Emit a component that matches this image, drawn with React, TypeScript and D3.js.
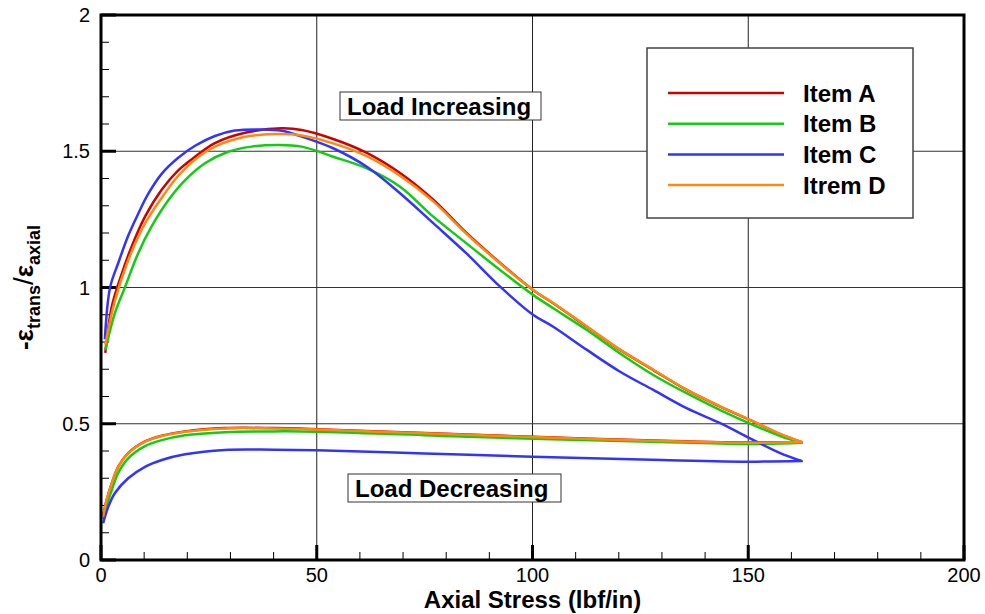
import React, { useEffect, useRef } from "react";
import * as d3 from "d3";

// legend / series
const itemNames = ["Item A", "Item B", "Item C", "Itrem D"];
const itemColors = ["#cc0000", "#11cc11", "#3333ff", "#ff8811"];

const xMajorTicks = [0, 50, 100, 150, 200];
const yMajorTicks = [0, 0.5, 1, 1.5, 2];
const xMinorTicks = [10, 20, 30, 40, 60, 70, 80, 90, 110, 120, 130, 140, 160, 170, 180, 190];
const yMinorTicks = [0.1, 0.2, 0.3, 0.4, 0.6, 0.7, 0.8, 0.9, 1.1, 1.2, 1.3, 1.4, 1.6, 1.7, 1.8, 1.9];

// load increasing branch, [axial stress, -e_trans/e_axial]
const itemAIncreasing = [
  [1.0, 0.76], [2.5, 0.93], [4.8, 1.05], [7.1, 1.15], [10.2, 1.26], [14.1, 1.36],
  [17.9, 1.43], [21.8, 1.48], [26.4, 1.53], [33.4, 1.568], [41.9, 1.584], [46.5, 1.578],
  [53.8, 1.545], [61.6, 1.494], [69.3, 1.42], [77, 1.322], [84.7, 1.2], [92.5, 1.09],
  [100.2, 0.99], [104.8, 0.942], [112.6, 0.856], [120.3, 0.771], [128, 0.697],
  [135.7, 0.624], [143.5, 0.563], [151.2, 0.508], [157.4, 0.462], [162.4, 0.432],
];
const itemADecreasing = [
  [162.4, 0.432], [151.2, 0.431], [130, 0.438], [100, 0.452], [75, 0.466], [50, 0.48],
  [40, 0.484], [28.7, 0.484], [19.5, 0.472], [14.1, 0.456], [10.2, 0.435], [6.3, 0.392],
  [4, 0.343], [2.5, 0.282], [1.3, 0.22], [0.5, 0.165],
];

const itemBIncreasing = [
  [1.0, 0.77], [3.2, 0.905], [5.6, 1.003], [8.6, 1.125], [11.7, 1.223], [15.6, 1.32],
  [19.5, 1.394], [24.1, 1.456], [29.5, 1.498], [34.9, 1.517], [41.1, 1.523], [46.5, 1.517],
  [53.8, 1.48], [61.6, 1.437], [69.3, 1.37], [77, 1.26], [84.7, 1.162], [92.5, 1.064],
  [100.2, 0.972], [104.8, 0.924], [112.6, 0.844], [120.3, 0.758], [128, 0.679],
  [135.7, 0.612], [143.5, 0.55], [151.2, 0.495], [157.4, 0.455], [162.4, 0.43],
];
const itemBDecreasing = [
  [162.4, 0.43], [151.2, 0.426], [130, 0.433], [100, 0.445], [75, 0.458], [50, 0.471],
  [40, 0.472], [28.7, 0.469], [19.5, 0.458], [14.1, 0.44], [10.2, 0.418], [6.3, 0.373],
  [4, 0.32], [2.5, 0.257], [1.3, 0.2], [0.5, 0.15],
];

const itemCIncreasing = [
  [0.9, 0.81], [2.1, 1.0], [4, 1.09], [6.3, 1.19], [8.6, 1.27], [11, 1.345], [14.1, 1.418],
  [17.9, 1.476], [21.8, 1.52], [26.4, 1.556], [31, 1.576], [37.2, 1.58], [41.9, 1.575],
  [46.1, 1.556], [53.8, 1.511], [61.6, 1.443], [69.3, 1.346], [77, 1.236], [84.7, 1.125],
  [92.5, 1.003], [100.2, 0.899], [104.8, 0.856], [112.6, 0.771], [120.3, 0.691],
  [128, 0.624], [135.7, 0.557], [143.5, 0.502], [151.2, 0.44], [157.4, 0.392], [162.4, 0.363],
];
const itemCDecreasing = [
  [162.4, 0.363], [151.2, 0.361], [130, 0.367], [100, 0.379], [75, 0.391], [50, 0.403],
  [40, 0.405], [28.7, 0.404], [19.5, 0.388], [14.1, 0.367], [10.2, 0.342], [6.3, 0.3],
  [3.2, 0.245], [1.7, 0.196], [0.5, 0.135],
];

const itemDIncreasing = [
  [1.0, 0.79], [3.2, 0.95], [6.3, 1.1], [10.2, 1.235], [14.1, 1.33], [17.9, 1.41],
  [21.8, 1.47], [26.4, 1.517], [33.4, 1.553], [40.3, 1.563], [46.5, 1.558], [53.8, 1.529],
  [61.6, 1.482], [69.3, 1.41], [77, 1.316], [84.7, 1.197], [92.5, 1.088], [100.2, 0.99],
  [104.8, 0.943], [112.6, 0.857], [120.3, 0.772], [128, 0.698], [135.7, 0.625],
  [143.5, 0.564], [151.2, 0.509], [157.4, 0.463], [162.4, 0.433],
];
const itemDDecreasing = [
  [162.4, 0.433], [151.2, 0.43], [130, 0.437], [100, 0.451], [75, 0.465], [50, 0.479],
  [40, 0.483], [28.7, 0.483], [19.5, 0.471], [14.1, 0.455], [10.2, 0.434], [6.3, 0.391],
  [4, 0.342], [2.5, 0.281], [1.3, 0.22], [0.5, 0.16],
];

const loops = [
  itemAIncreasing.concat(itemADecreasing),
  itemBIncreasing.concat(itemBDecreasing),
  itemCIncreasing.concat(itemCDecreasing),
  itemDIncreasing.concat(itemDDecreasing),
];

const FONT = "'Liberation Sans', Arial, Helvetica, sans-serif";

const App = () => {
  const ref = useRef<SVGSVGElement>(null);

  useEffect(() => {
    const root = d3.select(ref.current);
    root.selectAll("*").remove();

    const margin = { top: 15, right: 21, bottom: 54, left: 101 };
    const width = 985 - margin.left - margin.right;
    const height = 614 - margin.top - margin.bottom;

    const svg = root
      .append("g")
      .attr("transform", `translate(${margin.left},${margin.top})`)
      .style("font-family", FONT);

    const x = d3.scaleLinear().domain([0, 200]).range([0, width]);
    const y = d3.scaleLinear().domain([0, 2]).range([height, 0]);

    // grid
    svg
      .selectAll(".vgrid")
      .data(xMajorTicks.filter((d) => d > 0 && d < 200))
      .join("line")
      .attr("x1", (d) => x(d))
      .attr("x2", (d) => x(d))
      .attr("y1", 0)
      .attr("y2", height)
      .attr("stroke", "#222")
      .attr("stroke-width", 1);
    svg
      .selectAll(".hgrid")
      .data(yMajorTicks.filter((d) => d > 0 && d < 2))
      .join("line")
      .attr("x1", 0)
      .attr("x2", width)
      .attr("y1", (d) => y(d))
      .attr("y2", (d) => y(d))
      .attr("stroke", "#333")
      .attr("stroke-width", 1);

    // minor ticks
    svg
      .append("g")
      .selectAll("line")
      .data(xMinorTicks)
      .join("line")
      .attr("x1", (d) => x(d))
      .attr("x2", (d) => x(d))
      .attr("y1", height)
      .attr("y2", height - 8)
      .attr("stroke", "#000")
      .attr("stroke-width", 1);
    svg
      .append("g")
      .selectAll("line")
      .data(yMinorTicks)
      .join("line")
      .attr("x1", 0)
      .attr("x2", 8)
      .attr("y1", (d) => y(d))
      .attr("y2", (d) => y(d))
      .attr("stroke", "#000")
      .attr("stroke-width", 1);

    // major ticks
    svg
      .append("g")
      .selectAll("line")
      .data(xMajorTicks)
      .join("line")
      .attr("x1", (d) => x(d))
      .attr("x2", (d) => x(d))
      .attr("y1", height)
      .attr("y2", height - 15)
      .attr("stroke", "#000")
      .attr("stroke-width", 3);
    svg
      .append("g")
      .selectAll("line")
      .data(yMajorTicks)
      .join("line")
      .attr("x1", 0)
      .attr("x2", 15)
      .attr("y1", (d) => y(d))
      .attr("y2", (d) => y(d))
      .attr("stroke", "#000")
      .attr("stroke-width", 3);

    // tick labels
    svg
      .append("g")
      .selectAll("text")
      .data(xMajorTicks)
      .join("text")
      .attr("x", (d) => x(d))
      .attr("y", height + 22)
      .attr("text-anchor", "middle")
      .style("font-size", "20px")
      .text((d) => d3.format("")(d));
    svg
      .append("g")
      .selectAll("text")
      .data(yMajorTicks)
      .join("text")
      .attr("x", -11)
      .attr("y", (d) => y(d))
      .attr("dy", "0.36em")
      .attr("text-anchor", "end")
      .style("font-size", "20px")
      .text((d) => d3.format("")(d));

    // curves
    const line = d3
      .line<number[]>()
      .x((d) => x(d[0]))
      .y((d) => y(d[1]))
      .curve(d3.curveCatmullRom.alpha(0.5));

    svg
      .append("g")
      .selectAll("path")
      .data(loops)
      .join("path")
      .attr("d", (d) => line(d))
      .attr("fill", "none")
      .attr("stroke", (d, i) => itemColors[i])
      .attr("stroke-width", 2.5)
      .attr("stroke-linejoin", "round");

    // frame
    svg
      .append("rect")
      .attr("width", width)
      .attr("height", height)
      .attr("fill", "none")
      .attr("stroke", "#000")
      .attr("stroke-width", 3);

    // annotations
    const note = (label: string, bx: number, by: number, bw: number, bh: number) => {
      svg
        .append("rect")
        .attr("x", bx - margin.left)
        .attr("y", by - margin.top)
        .attr("width", bw)
        .attr("height", bh)
        .attr("fill", "#fff")
        .attr("stroke", "#333")
        .attr("stroke-width", 1);
      svg
        .append("text")
        .attr("x", bx - margin.left + 7)
        .attr("y", by - margin.top + bh - 5)
        .style("font-size", "24px")
        .style("font-weight", "bold")
        .text(label);
    };
    note("Load Increasing", 340, 92, 201, 28);
    note("Load Decreasing", 348, 474, 213, 28);

    // legend
    const legend = svg
      .append("g")
      .attr("transform", `translate(${647 - margin.left},${48 - margin.top})`);
    legend
      .append("rect")
      .attr("width", 266)
      .attr("height", 170)
      .attr("fill", "#fff")
      .attr("stroke", "#444")
      .attr("stroke-width", 1.5);
    itemNames.forEach((name, i) => {
      const ly = 45 + i * 30.7;
      legend
        .append("line")
        .attr("x1", 21)
        .attr("x2", 137)
        .attr("y1", ly)
        .attr("y2", ly)
        .attr("stroke", itemColors[i])
        .attr("stroke-width", 2.5);
      legend
        .append("text")
        .attr("x", 156)
        .attr("y", ly + 8.5)
        .style("font-size", "24px")
        .style("font-weight", "bold")
        .text(name);
    });

    // axis titles
    svg
      .append("text")
      .attr("x", width / 2)
      .attr("y", height + 47.5)
      .attr("text-anchor", "middle")
      .style("font-size", "24px")
      .style("font-weight", "bold")
      .text("Axial Stress (lbf/in)");

    const yTitle = svg
      .append("text")
      .attr("transform", `translate(${33 - margin.left},${height / 2}) rotate(-90)`)
      .attr("text-anchor", "middle")
      .style("font-size", "26px")
      .style("font-weight", "bold");
    yTitle.append("tspan").text("-ε");
    yTitle.append("tspan").attr("dy", 7).style("font-size", "18px").text("trans");
    yTitle.append("tspan").attr("dy", -7).style("font-size", "28px").style("font-weight", "normal").text("/");
    yTitle.append("tspan").text("ε");
    yTitle.append("tspan").attr("dy", 7).style("font-size", "18px").text("axial");
  }, []);

  return (
    <svg
      ref={ref}
      width={985}
      height={614}
      style={{ position: "absolute", left: 0, top: 0, background: "#fff" }}
    />
  );
};

export default App;
